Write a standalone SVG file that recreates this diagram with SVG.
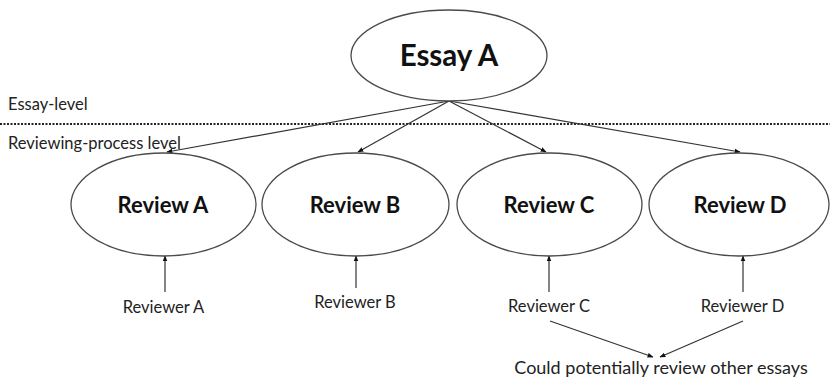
<svg xmlns="http://www.w3.org/2000/svg" width="830" height="379" viewBox="0 0 830 379">
<style>
.node ellipse{fill:#fff;stroke:#4a4a4a;stroke-width:1.3}
.title{font-family:Lato,"Liberation Sans",sans-serif;font-weight:bold;fill:#111;text-anchor:middle}
.lbl{font-family:Lato,"Liberation Sans",sans-serif;fill:#222;font-size:16.5px}
.mid{text-anchor:middle}
.conn line{stroke:#333;stroke-width:1.2;marker-end:url(#ah)}
</style>
<defs>
<marker id="ah" viewBox="0 0 10 10" refX="9" refY="5" markerWidth="6" markerHeight="6" markerUnits="userSpaceOnUse" orient="auto">
<path d="M0,1 L10,5 L0,9 z" fill="#111"/>
</marker>
</defs>
<rect width="830" height="379" fill="#fff"/>
<line x1="0" y1="124" x2="830" y2="124" stroke="#222" stroke-width="2" stroke-dasharray="2,1.5"/>
<text class="lbl" x="8" y="110">Essay-level</text>
<text class="lbl" x="8" y="149">Reviewing-process level</text>
<g class="conn">
<line x1="449" y1="101" x2="167" y2="152"/>
<line x1="449" y1="101" x2="358" y2="152"/>
<line x1="449" y1="101" x2="546" y2="152"/>
<line x1="449" y1="101" x2="740" y2="152"/>
<line x1="165" y1="292" x2="165" y2="256"/>
<line x1="356" y1="288" x2="356" y2="256"/>
<line x1="549" y1="292" x2="549" y2="256"/>
<line x1="743" y1="292" x2="743" y2="256"/>
<line x1="550" y1="321" x2="653" y2="357"/>
<line x1="743" y1="321" x2="660" y2="357"/>
</g>
<g id="essayA" class="node"><ellipse cx="449" cy="55.5" rx="98" ry="45.5"/><text class="title" x="449" y="66" font-size="29.5">Essay A</text></g>
<g id="reviewA" class="node"><ellipse cx="163.5" cy="204.5" rx="92.5" ry="51.5"/><text class="title" x="163" y="213" font-size="22">Review A</text></g>
<g id="reviewB" class="node"><ellipse cx="355.5" cy="204.5" rx="93.5" ry="51.5"/><text class="title" x="355" y="213" font-size="22">Review B</text></g>
<g id="reviewC" class="node"><ellipse cx="549.5" cy="204.5" rx="92.5" ry="51.5"/><text class="title" x="549" y="213" font-size="22">Review C</text></g>
<g id="reviewD" class="node"><ellipse cx="739" cy="204.5" rx="90" ry="51.5"/><text class="title" x="740" y="213" font-size="22">Review D</text></g>
<g id="reviewerA"><text class="lbl mid" x="163.5" y="313">Reviewer A</text></g>
<g id="reviewerB"><text class="lbl mid" x="355" y="308">Reviewer B</text></g>
<g id="reviewerC"><text class="lbl mid" x="549" y="312">Reviewer C</text></g>
<g id="reviewerD"><text class="lbl mid" x="742.5" y="312">Reviewer D</text></g>
<g id="other"><text class="lbl mid" x="661" y="374" style="font-size:18px">Could potentially review other essays</text></g>
</svg>
